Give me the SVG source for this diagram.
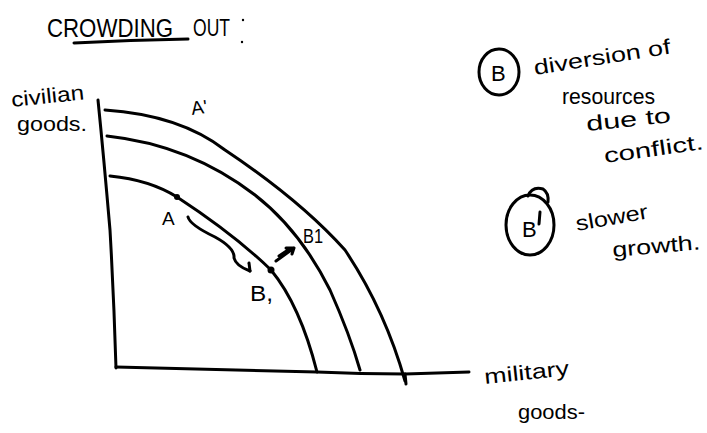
<svg xmlns="http://www.w3.org/2000/svg" width="707" height="433" viewBox="0 0 707 433">
<style>
.ln{fill:none;stroke:#000;stroke-width:3;stroke-linecap:round;stroke-linejoin:round}
.t{font-family:"Liberation Sans",Arial,sans-serif;fill:#000}
</style>
<rect width="707" height="433" fill="#fff"/>
<g id="title">
<text class="t" x="47" y="37" font-size="25" textLength="126" lengthAdjust="spacingAndGlyphs">CROWDING</text>
<text class="t" x="193" y="36" font-size="24" textLength="37" lengthAdjust="spacingAndGlyphs">OUT</text>
<path class="ln" d="M74 43 Q130 40 188 39" stroke-width="2.5"/>
<circle cx="243" cy="20" r="1.2"/><circle cx="242" cy="42" r="1.2"/>
</g>
<g id="axes">
<path class="ln" d="M98 100 Q104 160 110 230 Q114 300 116 368"/>
<path class="ln" d="M116 367 Q220 370 317 372 Q360 374 405 374 Q440 373 469 372"/>
<path class="ln" d="M405 374 L406 384" stroke-width="2.5"/>
</g>
<g id="curves">
<path class="ln" d="M110 176 Q150 180 177 197 Q235 235 271 270 Q300 305 317 372"/>
<path class="ln" d="M107 136 Q190 145 255 195 Q300 230 330 290 Q350 335 360 370"/>
<path class="ln" d="M105 110 Q180 115 225 150 Q300 200 345 250 Q385 310 405 381"/>
</g>
<g id="points">
<circle cx="177" cy="197" r="3"/>
<circle cx="271" cy="270" r="3.5"/>
</g>
<g id="arrows">
<path class="ln" d="M188 217 Q190 225 215 237 Q235 248 234 258 Q236 266 250 271" stroke-width="2.5"/>
<path class="ln" d="M250 271 L249 263" stroke-width="2.5"/>
<path class="ln" d="M276 261 L294 248 M286 248 L294 248 L292 254 M279 256 L291 248" stroke-width="2.5"/>
</g>
<g id="labels">
<text class="t" x="162" y="225" font-size="19">A</text>
<text class="t" x="192" y="115" font-size="19" transform="rotate(-8 192 115)">A'</text>
<text class="t" x="250" y="301" font-size="22" textLength="23" lengthAdjust="spacingAndGlyphs">B,</text>
<text class="t" x="303" y="243" font-size="21" textLength="20" lengthAdjust="spacingAndGlyphs">B1</text>
<text class="t" x="12" y="107" font-size="21" textLength="73" lengthAdjust="spacingAndGlyphs" transform="rotate(-6 12 107)">civilian</text>
<text class="t" x="17" y="131" font-size="21" textLength="70" lengthAdjust="spacingAndGlyphs">goods.</text>
<text class="t" x="485" y="384" font-size="21" textLength="85" lengthAdjust="spacingAndGlyphs" transform="rotate(-6 485 384)">military</text>
<text class="t" x="518" y="419" font-size="21" textLength="67" lengthAdjust="spacingAndGlyphs">goods-</text>
</g>
<g id="noteB">
<ellipse class="ln" cx="499" cy="72" rx="20" ry="23" stroke-width="2.5"/>
<text class="t" x="491" y="81" font-size="22">B</text>
<text class="t" x="535" y="75" font-size="21" textLength="138" lengthAdjust="spacingAndGlyphs" transform="rotate(-9 535 75)">diversion of</text>
<text class="t" x="562" y="104" font-size="22" textLength="93" lengthAdjust="spacingAndGlyphs">resources</text>
<text class="t" x="587" y="131" font-size="21" textLength="85" lengthAdjust="spacingAndGlyphs" transform="rotate(-6 587 131)">due to</text>
<text class="t" x="605" y="163" font-size="21" textLength="100" lengthAdjust="spacingAndGlyphs" transform="rotate(-8 605 163)">conflict.</text>
</g>
<g id="noteB2">
<ellipse class="ln" cx="530" cy="225" rx="24" ry="30" stroke-width="2.5"/>
<path class="ln" d="M528 196 Q532 186 543 189 Q549 193 548 202" stroke-width="2.5"/>
<text class="t" x="522" y="237" font-size="22">B</text>
<path class="ln" d="M540 212 L539 224" stroke-width="2"/>
<text class="t" x="577" y="231" font-size="21" textLength="73" lengthAdjust="spacingAndGlyphs" transform="rotate(-10 577 231)">slower</text>
<text class="t" x="613" y="257" font-size="21" textLength="88" lengthAdjust="spacingAndGlyphs" transform="rotate(-5 613 257)">growth.</text>
</g>
</svg>
